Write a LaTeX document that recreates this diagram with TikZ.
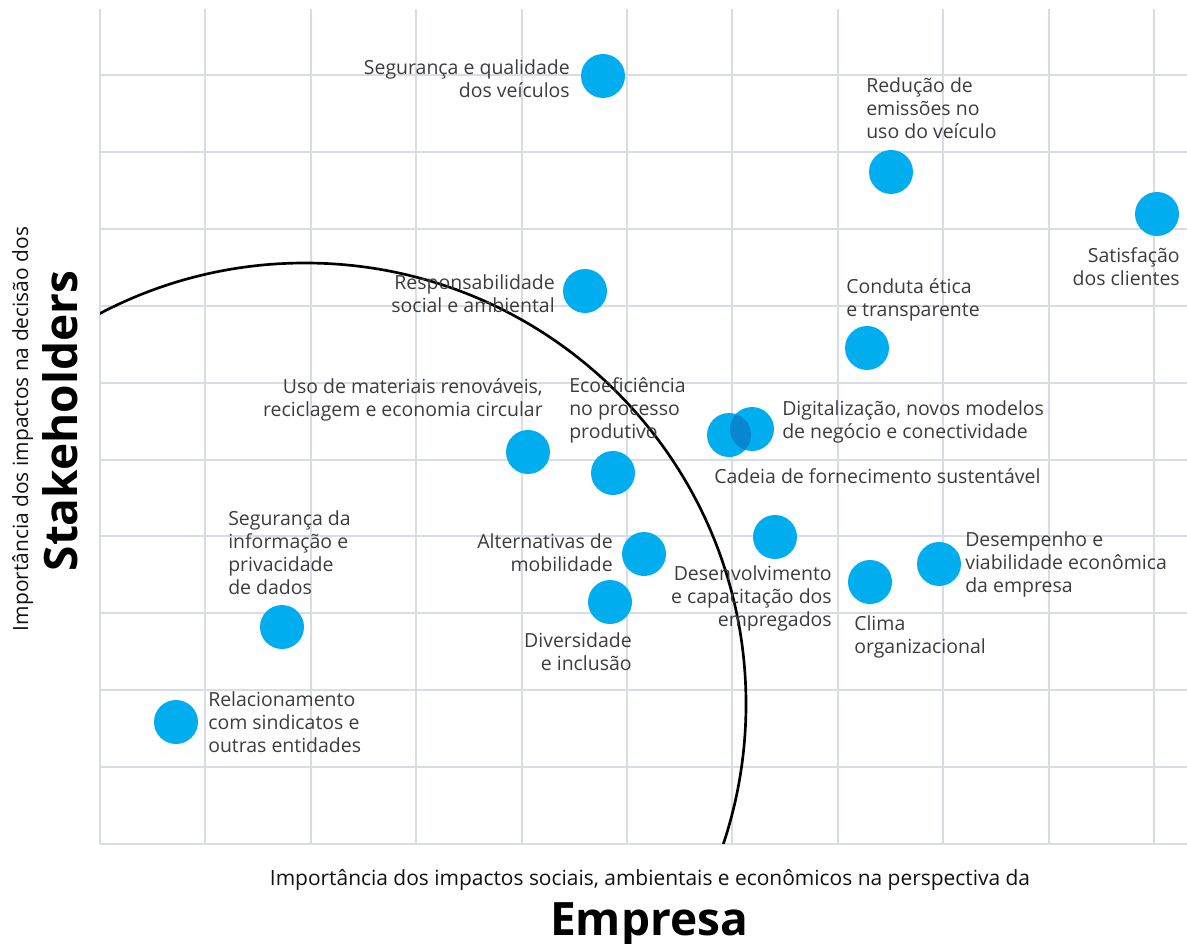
\documentclass[tikz,border=0pt]{standalone}
\usepackage{fontspec}
\setmainfont{Open Sans}
\definecolor{gridgray}{HTML}{D8DDE3}
\definecolor{dotblue}{HTML}{00AEEF}
\definecolor{overlapblue}{HTML}{0A86D0}
\definecolor{labelgray}{HTML}{3C3C3C}
\definecolor{axisblack}{HTML}{111111}
\begin{document}
\begin{tikzpicture}[x=0.75pt,y=-0.75pt,
  gridline/.style={draw=gridgray, line width=1.5pt},
  dot/.style={circle, fill=dotblue, minimum size=33pt, inner sep=0pt},
  lbl/.style={inner sep=0pt, text=labelgray, font=\fontsize{14.6}{17.25}\selectfont},
  axislbl/.style={inner sep=0pt, text=axisblack, font=\fontsize{15.7}{18}\selectfont},
  axisbold/.style={inner sep=0pt, text=black, font=\fontsize{34.5}{40}\selectfont\bfseries},
  ring/.style={draw=black, line width=2pt}]
\useasboundingbox (0,0) rectangle (1187,944);
% grid
\foreach \i in {0,...,10} {
  \draw[gridline] ({100+105.4*\i},9) -- ({100+105.4*\i},844);
  \draw[gridline] (100,{844-76.9*\i}) -- (1187,{844-76.9*\i});
}
% materiality ring
\begin{scope}
  \clip (100,0) rectangle (1187,843);
  \draw[ring] (305,704) circle[radius=441];
\end{scope}
% dots
\node[dot] (d1) at (603,76) {};
\node[dot] (d2) at (891,172) {};
\node[dot] (d3) at (1157,214) {};
\node[dot] (d4) at (585,291) {};
\node[dot] (d5) at (867,348) {};
\node[dot] (d6) at (729,435) {};
\node[dot] (d7) at (752,429) {};
\node[dot] (d8) at (528,452) {};
\node[dot] (d9) at (613,473) {};
\node[dot] (d10) at (775,537) {};
\node[dot] (d11) at (644,554) {};
\node[dot] (d12) at (939,564) {};
\node[dot] (d13) at (870,582) {};
\node[dot] (d14) at (610,602) {};
\node[dot] (d15) at (282,627) {};
\node[dot] (d16) at (176,722) {};
\begin{scope}
  \clip (d6) circle[radius=22];
  \fill[overlapblue] (d7) circle[radius=22];
\end{scope}
% labels
\node[lbl, anchor=east, align=right] (t1) at (570,79) {Segurança e qualidade\\dos veículos};
\node[lbl, anchor=west, align=left] (t2) at (866,108) {Redução de\\emissões no\\uso do veículo};
\node[lbl, anchor=east, align=right] (t3) at (1180,267) {Satisfação\\dos clientes};
\node[lbl, anchor=east, align=right] (t4) at (555,294) {Responsabilidade\\social e ambiental};
\node[lbl, anchor=west, align=left] (t5) at (846,300) {Conduta ética\\e transparente};
\node[lbl, anchor=east, align=right] (t6) at (543,400) {Uso de materiais renováveis,\\reciclagem e economia circular};
\node[lbl, anchor=west, align=left] (t7) at (569,410) {Ecoeficiência\\no processo\\produtivo};
\node[lbl, anchor=west, align=left] (t8) at (782,422) {Digitalização, novos modelos\\de negócio e conectividade};
\node[lbl, anchor=west] (t9) at (714,476) {Cadeia de fornecimento sustentável};
\node[lbl, anchor=west, align=left] (t10) at (228,553) {Segurança da\\informação e\\privacidade\\de dados};
\node[lbl, anchor=east, align=right] (t11) at (613,553) {Alternativas de\\mobilidade};
\node[lbl, anchor=east, align=right] (t12) at (832,598) {Desenvolvimento\\e capacitação dos\\empregados};
\node[lbl, anchor=west, align=left] (t13) at (965,564) {Desempenho e\\viabilidade econômica\\da empresa};
\node[lbl, anchor=west, align=left] (t14) at (854,637) {Clima\\organizacional};
\node[lbl, anchor=east, align=right] (t15) at (632,652) {Diversidade\\e inclusão};
\node[lbl, anchor=west, align=left] (t16) at (208,722) {Relacionamento\\com sindicatos e\\outras entidades};
% axes titles
\node[axislbl, anchor=base] (xl) at (650,885) {Importância dos impactos sociais, ambientais e econômicos na perspectiva da};
\node[axisbold, anchor=base] (xb) at (649,935) {Empresa};
\node[axislbl, anchor=base, rotate=90] (yl) at (28,429) {Importância dos impactos na decisão dos};
\node[axisbold, anchor=base, rotate=90] (yb) at (77,421) {Stakeholders};
\end{tikzpicture}
\end{document}
